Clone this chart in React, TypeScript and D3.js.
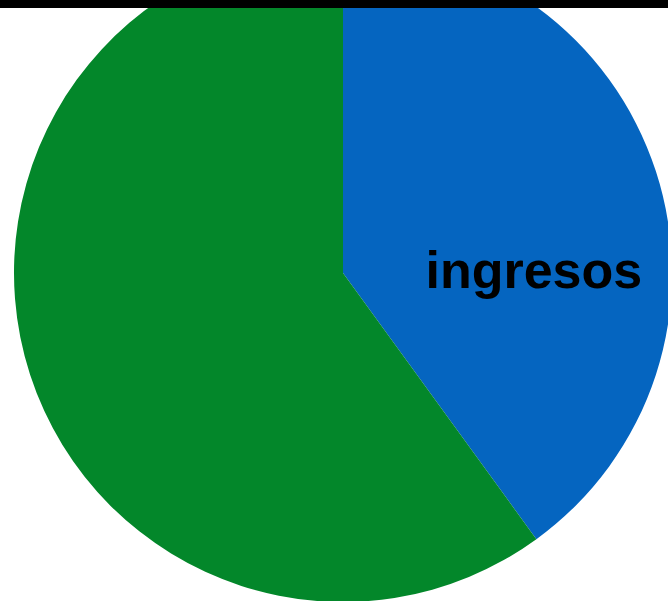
import React from "react";
import * as d3 from "d3";

const categories = ["ingresos", "gastos"];
const values = [40, 60];
const colors = ["#0565C0", "#03872A"];
const shownLabels = ["ingresos"];

const W = 668;
const H = 601;

export default function App() {
  const cx = 343;
  const cy = 273;
  const r = 329;
  const data = categories.map((c, i) => ({ c, v: values[i], color: colors[i] }));
  const pie = d3.pie<any>().value((d) => d.v).sort(null);
  const arcs = pie(data);
  const arc = d3.arc<any>().innerRadius(0).outerRadius(r);
  const labelArc = d3.arc<any>().innerRadius(r * 0.58).outerRadius(r * 0.58);

  return (
    <svg
      width={W}
      height={H}
      style={{ position: "fixed", left: 0, top: 0, background: "#fff" }}
    >
      <g transform={`translate(${cx},${cy})`}>
        {arcs.map((a, i) => (
          <path key={i} d={arc(a) as string} fill={a.data.color} />
        ))}
        {arcs.map((a, i) => {
          if (!shownLabels.includes(a.data.c)) return null;
          const mid = Math.PI / 2;
          const lr = r * 0.58;
          const x = Math.sin(mid) * lr;
          const y = -Math.cos(mid) * lr;
          return (
            <text
              key={"t" + i}
              x={x}
              y={y + 15}
              textAnchor="middle"
              fontFamily="Liberation Sans, Arial, sans-serif"
              fontWeight="bold"
              fontSize={52}
              fill="#000"
            >
              {a.data.c}
            </text>
          );
        })}
      </g>
      <rect x={0} y={0} width={W} height={8} fill="#000" />
    </svg>
  );
}
